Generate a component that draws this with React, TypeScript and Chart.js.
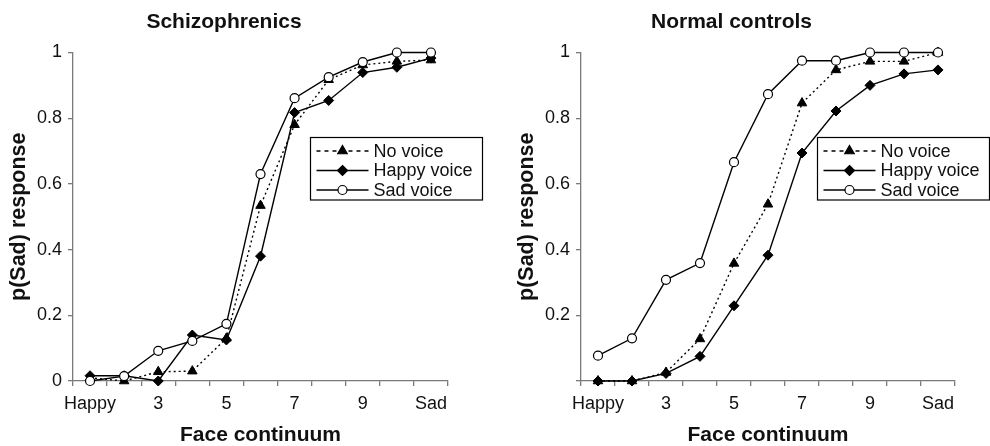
import React, { useEffect, useRef } from "react";
import { Chart, registerables } from "chart.js";

Chart.register(...registerables);

const categories = ["Happy", "2", "3", "4", "5", "6", "7", "8", "9", "10", "Sad"];
const tickLabels = ["Happy", "3", "5", "7", "9", "Sad"];
const seriesNames = ["No voice", "Happy voice", "Sad voice"];

const schizNoVoice = [0.01, 0.0, 0.028, 0.03, 0.13, 0.534, 0.78, 0.917, 0.962, 0.973, 0.977];
const schizHappy = [0.016, 0.016, 0.0, 0.14, 0.125, 0.38, 0.817, 0.854, 0.939, 0.955, 0.983];
const schizSad = [0.0, 0.015, 0.092, 0.122, 0.174, 0.63, 0.861, 0.925, 0.971, 1.0, 1.0];

const ctrlNoVoice = [0.0, 0.0, 0.026, 0.128, 0.358, 0.538, 0.846, 0.947, 0.973, 0.973, 1.0];
const ctrlHappy = [0.0, 0.0, 0.023, 0.075, 0.229, 0.383, 0.694, 0.822, 0.9, 0.935, 0.947];
const ctrlSad = [0.077, 0.13, 0.308, 0.359, 0.666, 0.873, 0.975, 0.975, 1.0, 1.0, 1.0];

const FONT = "'Liberation Sans', Arial, Helvetica, sans-serif";
const AXIS = "#7a7a7a";
const INK = "#111";

function drawMarker(ctx: CanvasRenderingContext2D, kind: string, x: number, y: number) {
  ctx.save();
  ctx.setLineDash([]);
  ctx.lineWidth = 1.2;
  ctx.strokeStyle = "#000";
  ctx.beginPath();
  if (kind === "triangle") {
    const r = 5.5;
    ctx.moveTo(x, y - r);
    ctx.lineTo(x + r * Math.sin((2 * Math.PI) / 3), y - r * Math.cos((2 * Math.PI) / 3));
    ctx.lineTo(x + r * Math.sin((4 * Math.PI) / 3), y - r * Math.cos((4 * Math.PI) / 3));
    ctx.closePath();
    ctx.fillStyle = "#000";
    ctx.fill();
    ctx.stroke();
  } else if (kind === "rectRot") {
    const r = 5;
    ctx.moveTo(x, y - r);
    ctx.lineTo(x + r, y);
    ctx.lineTo(x, y + r);
    ctx.lineTo(x - r, y);
    ctx.closePath();
    ctx.fillStyle = "#000";
    ctx.fill();
    ctx.stroke();
  } else {
    ctx.arc(x, y, 4.5, 0, Math.PI * 2);
    ctx.fillStyle = "#fff";
    ctx.fill();
    ctx.stroke();
  }
  ctx.restore();
}

const legendPlugin = {
  id: "boxLegend",
  afterDraw(chart: any) {
    const { ctx, chartArea } = chart;
    const x0 = chartArea.right - 137.5;
    const y0 = chartArea.top + 85;
    const w = 172;
    const h = 62.5;
    ctx.save();
    ctx.fillStyle = "#fff";
    ctx.fillRect(x0, y0, w, h);
    ctx.strokeStyle = "#000";
    ctx.lineWidth = 1.2;
    ctx.setLineDash([]);
    ctx.strokeRect(x0, y0, w, h);
    const kinds = ["triangle", "rectRot", "circle"];
    seriesNames.forEach((name, i) => {
      const y = y0 + 13.5 + i * 19.5;
      ctx.beginPath();
      ctx.lineWidth = 1.4;
      ctx.strokeStyle = "#000";
      ctx.setLineDash(i === 0 ? [4, 4] : []);
      ctx.moveTo(x0 + 6, y);
      ctx.lineTo(x0 + 58, y);
      ctx.stroke();
      ctx.setLineDash([]);
      drawMarker(ctx, kinds[i], x0 + 32, y);
      ctx.fillStyle = INK;
      ctx.font = `18px ${FONT}`;
      ctx.textBaseline = "middle";
      ctx.textAlign = "left";
      ctx.fillText(name, x0 + 63, y + 1);
    });
    ctx.restore();
  },
};

type PanelProps = {
  title: string;
  noVoice: number[];
  happy: number[];
  sad: number[];
  width: number;
  padLeft: number;
  padRight: number;
  hideZero: boolean;
};

function Panel({ title, noVoice, happy, sad, width, padLeft, padRight, hideZero }: PanelProps) {
  const ref = useRef<HTMLCanvasElement | null>(null);
  useEffect(() => {
    if (!ref.current) return;
    const chart = new Chart(ref.current, {
      type: "line",
      data: {
        labels: categories,
        datasets: [
          {
            label: seriesNames[0],
            data: noVoice,
            borderColor: "#000",
            backgroundColor: "#000",
            borderWidth: 1.4,
            borderDash: [2, 3],
            pointStyle: "triangle",
            pointRadius: 5.5,
            pointBorderWidth: 1,
            pointBackgroundColor: "#000",
            pointBorderColor: "#000",
            tension: 0,
            clip: false,
            order: 2,
          },
          {
            label: seriesNames[1],
            data: happy,
            borderColor: "#000",
            backgroundColor: "#000",
            borderWidth: 1.4,
            pointStyle: "rectRot",
            pointRadius: 5,
            pointBorderWidth: 1,
            pointBackgroundColor: "#000",
            pointBorderColor: "#000",
            tension: 0,
            clip: false,
            order: 1,
          },
          {
            label: seriesNames[2],
            data: sad,
            borderColor: "#000",
            backgroundColor: "#fff",
            borderWidth: 1.4,
            pointStyle: "circle",
            pointRadius: 4.5,
            pointBorderWidth: 1.2,
            pointBackgroundColor: "#fff",
            pointBorderColor: "#000",
            tension: 0,
            clip: false,
            order: 0,
          },
        ],
      },
      options: {
        responsive: false,
        animation: false,
        events: [],
        layout: { padding: { left: padLeft, right: padRight, top: 0, bottom: 0 } },
        plugins: {
          legend: { display: false },
          tooltip: { enabled: false },
          title: {
            display: true,
            text: title,
            color: INK,
            font: { family: FONT, size: 21, weight: "bold" },
            padding: { top: 10, bottom: 17.3 },
          },
        },
        scales: {
          x: {
            type: "category",
            offset: true,
            grid: {
              offset: true,
              drawOnChartArea: false,
              drawTicks: true,
              tickLength: 5,
              color: AXIS,
              lineWidth: 1.3,
            },
            border: { display: true, color: AXIS, width: 1.3 },
            ticks: {
              autoSkip: false,
              maxRotation: 0,
              minRotation: 0,
              padding: 7.7,
              color: INK,
              font: { family: FONT, size: 18 },
              callback: (_v: any, i: number) =>
                tickLabels.includes(categories[i]) ? categories[i] : "",
            },
            title: {
              display: true,
              text: "Face continuum",
              color: INK,
              font: { family: FONT, size: 21, weight: "bold", lineHeight: 1 },
              padding: { top: 0, bottom: 0 },
            },
            afterFit: (s: any) => {
              s.height = 65;
            },
          },
          y: {
            min: 0,
            max: 1,
            grid: {
              drawOnChartArea: false,
              drawTicks: true,
              tickLength: 5,
              color: AXIS,
              lineWidth: 1.3,
            },
            border: { display: true, color: AXIS, width: 1.3 },
            ticks: {
              stepSize: 0.2,
              padding: 6,
              color: INK,
              font: { family: FONT, size: 18 },
              callback: (v: any) => {
                const n = Number(v);
                if (hideZero && n === 0) return "";
                return String(Math.round(n * 10) / 10);
              },
            },
            title: {
              display: true,
              text: "p(Sad) response",
              color: INK,
              font: { family: FONT, size: 21.5, weight: "bold" },
              padding: { top: 6, bottom: 0 },
            },
            afterFit: (s: any) => {
              s.width = 73;
            },
          },
        },
      } as any,
      plugins: [legendPlugin],
    });
    return () => chart.destroy();
  }, []);
  return (
    <canvas
      ref={ref}
      width={width}
      height={446}
      style={{ display: "block", width: width, height: 446 }}
    />
  );
}

export default function App() {
  return (
    <div
      style={{
        position: "absolute",
        left: 0,
        top: 0,
        width: 990,
        height: 446,
        display: "flex",
        background: "#fff",
      }}
    >
      <Panel
        title="Schizophrenics"
        noVoice={schizNoVoice}
        happy={schizHappy}
        sad={schizSad}
        width={500}
        padLeft={0}
        padRight={52}
        hideZero={false}
      />
      <Panel
        title="Normal controls"
        noVoice={ctrlNoVoice}
        happy={ctrlHappy}
        sad={ctrlSad}
        width={490}
        padLeft={8}
        padRight={35}
        hideZero={true}
      />
    </div>
  );
}
